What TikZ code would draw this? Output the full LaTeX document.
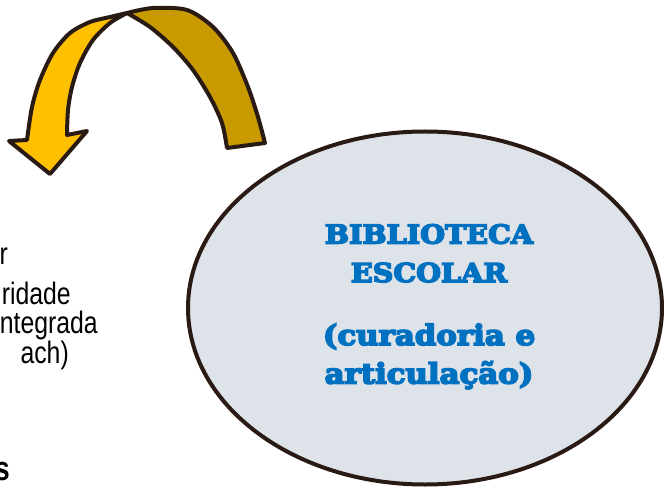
\documentclass[tikz,border=0pt]{standalone}
\usepackage{fontspec}
\usetikzlibrary{shapes.geometric}
\newfontfamily\narrowsans[FakeStretch=0.8]{Liberation Sans}
\newfontfamily\slabserif[FakeStretch=1.1,FakeBold=6]{DejaVu Serif}
\newcommand\lowsize{\fontsize{28}{38.5}\selectfont}
\definecolor{outline}{HTML}{2A1A14}
\definecolor{goldlight}{HTML}{FFC000}
\definecolor{golddark}{HTML}{C99A00}
\definecolor{bubblefill}{HTML}{DEE3EA}
\definecolor{titleblue}{HTML}{0070C0}

\begin{document}
\begin{tikzpicture}[x=1pt,y=-1pt,
    bubble/.style={ellipse,draw=outline,line width=4pt,fill=bubblefill,
      minimum width=474pt,minimum height=353pt,inner sep=0pt},
    ribbon/.style={draw=outline,line width=4pt,line join=round},
    sidetext/.style={anchor=base east,inner sep=0pt,
      font=\narrowsans\fontsize{31}{31}\selectfont},
    title/.style={align=center,anchor=north,inner sep=0pt,text=titleblue,
      font=\slabserif\bfseries\fontsize{26}{38.5}\selectfont}]
  \useasboundingbox (0,0) rectangle (664,489);

  % curved arrow: light half with head, dark half with tail
  \filldraw[ribbon,fill=goldlight]
    plot[smooth] coordinates {(127,13) (110,17) (90,22) (70,33) (53,53) (40,80) (32,107) (27,140)}
    -- (9,141) -- (50,174) -- (87,131) -- (67,135)
    -- plot[smooth] coordinates {(67,135) (68,110) (72,87) (80,63) (93,40) (110,23) (127,13)}
    -- cycle;
  \filldraw[ribbon,fill=golddark]
    plot[smooth] coordinates {(127,13) (153,8) (187,10) (213,27) (233,53) (248,87) (258,117) (265,143)}
    -- (227,148)
    -- plot[smooth] coordinates {(227,148) (222,123) (210,97) (193,70) (173,47) (150,27) (127,13)}
    -- cycle;

  % bubble
  \node[bubble] (bib) at (425,308) {};
  \node[title] (bibtitle) at (429,224)
    {BIBLIOTECA\\ESCOLAR\\[24.5pt]\lowsize(curadoria e\\\lowsize articulação)};

  % cut-off text on the left
  \node[sidetext] (line1) at (8,265) {r};
  \node[sidetext] (line2) at (71,304) {ridade};
  \node[sidetext] (line3) at (98,333) {ntegrada};
  \node[sidetext] (line4) at (69,363) {ach)};
  \node[sidetext,font=\narrowsans\bfseries\fontsize{34}{34}\selectfont] (line5) at (10,480) {s};
\end{tikzpicture}
\end{document}
